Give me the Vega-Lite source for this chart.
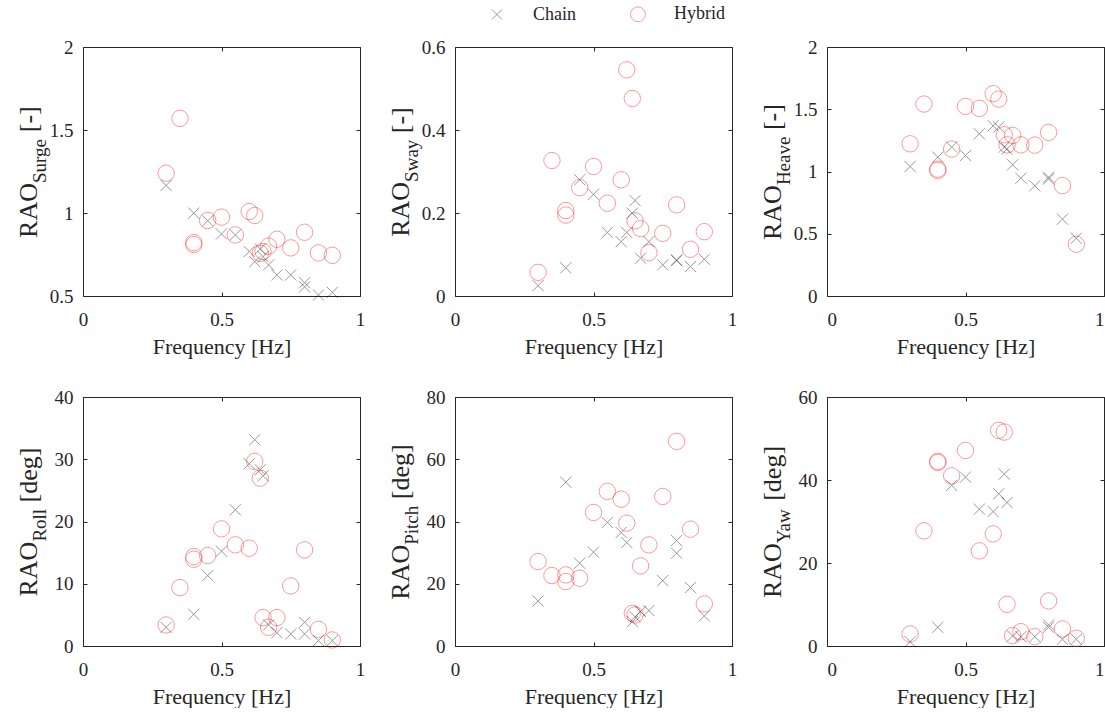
{
"$schema":"https://vega.github.io/schema/vega-lite/v6.json",
"padding":{"left":14,"top":5,"right":0,"bottom":0},
"background":"white",
"datasets":{"d":[
{"p":"Surge","t":"Hybrid","f":0.3,"v":1.24},{"p":"Surge","t":"Hybrid","f":0.35,"v":1.57},{"p":"Surge","t":"Hybrid","f":0.4,"v":0.822},{"p":"Surge","t":"Hybrid","f":0.4,"v":0.81},{"p":"Surge","t":"Hybrid","f":0.45,"v":0.955},{"p":"Surge","t":"Hybrid","f":0.5,"v":0.975},{"p":"Surge","t":"Hybrid","f":0.55,"v":0.868},{"p":"Surge","t":"Hybrid","f":0.6,"v":1.009},{"p":"Surge","t":"Hybrid","f":0.62,"v":0.985},{"p":"Surge","t":"Hybrid","f":0.64,"v":0.757},{"p":"Surge","t":"Hybrid","f":0.65,"v":0.768},{"p":"Surge","t":"Hybrid","f":0.67,"v":0.8},{"p":"Surge","t":"Hybrid","f":0.7,"v":0.842},{"p":"Surge","t":"Hybrid","f":0.75,"v":0.79},{"p":"Surge","t":"Hybrid","f":0.8,"v":0.884},{"p":"Surge","t":"Hybrid","f":0.85,"v":0.76},{"p":"Surge","t":"Hybrid","f":0.9,"v":0.745},
{"p":"Surge","t":"Chain","f":0.3,"v":1.166},{"p":"Surge","t":"Chain","f":0.4,"v":0.999},{"p":"Surge","t":"Chain","f":0.45,"v":0.953},{"p":"Surge","t":"Chain","f":0.5,"v":0.874},{"p":"Surge","t":"Chain","f":0.55,"v":0.868},{"p":"Surge","t":"Chain","f":0.6,"v":0.768},{"p":"Surge","t":"Chain","f":0.62,"v":0.707},{"p":"Surge","t":"Chain","f":0.64,"v":0.783},{"p":"Surge","t":"Chain","f":0.65,"v":0.737},{"p":"Surge","t":"Chain","f":0.67,"v":0.687},{"p":"Surge","t":"Chain","f":0.7,"v":0.627},{"p":"Surge","t":"Chain","f":0.75,"v":0.627},{"p":"Surge","t":"Chain","f":0.8,"v":0.58},{"p":"Surge","t":"Chain","f":0.8,"v":0.555},{"p":"Surge","t":"Chain","f":0.85,"v":0.506},{"p":"Surge","t":"Chain","f":0.9,"v":0.522},
{"p":"Sway","t":"Hybrid","f":0.3,"v":0.057},{"p":"Sway","t":"Hybrid","f":0.35,"v":0.3265},{"p":"Sway","t":"Hybrid","f":0.4,"v":0.206},{"p":"Sway","t":"Hybrid","f":0.4,"v":0.195},{"p":"Sway","t":"Hybrid","f":0.45,"v":0.261},{"p":"Sway","t":"Hybrid","f":0.5,"v":0.312},{"p":"Sway","t":"Hybrid","f":0.55,"v":0.2236},{"p":"Sway","t":"Hybrid","f":0.6,"v":0.28},{"p":"Sway","t":"Hybrid","f":0.62,"v":0.545},{"p":"Sway","t":"Hybrid","f":0.64,"v":0.476},{"p":"Sway","t":"Hybrid","f":0.65,"v":0.181},{"p":"Sway","t":"Hybrid","f":0.67,"v":0.1625},{"p":"Sway","t":"Hybrid","f":0.7,"v":0.1046},{"p":"Sway","t":"Hybrid","f":0.75,"v":0.151},{"p":"Sway","t":"Hybrid","f":0.8,"v":0.2196},{"p":"Sway","t":"Hybrid","f":0.85,"v":0.1126},{"p":"Sway","t":"Hybrid","f":0.9,"v":0.155},
{"p":"Sway","t":"Chain","f":0.3,"v":0.025},{"p":"Sway","t":"Chain","f":0.4,"v":0.068},{"p":"Sway","t":"Chain","f":0.45,"v":0.28},{"p":"Sway","t":"Chain","f":0.5,"v":0.245},{"p":"Sway","t":"Chain","f":0.55,"v":0.153},{"p":"Sway","t":"Chain","f":0.6,"v":0.131},{"p":"Sway","t":"Chain","f":0.62,"v":0.153},{"p":"Sway","t":"Chain","f":0.64,"v":0.1995},{"p":"Sway","t":"Chain","f":0.65,"v":0.23},{"p":"Sway","t":"Chain","f":0.67,"v":0.091},{"p":"Sway","t":"Chain","f":0.7,"v":0.131},{"p":"Sway","t":"Chain","f":0.75,"v":0.075},{"p":"Sway","t":"Chain","f":0.8,"v":0.087},{"p":"Sway","t":"Chain","f":0.8,"v":0.085},{"p":"Sway","t":"Chain","f":0.85,"v":0.071},{"p":"Sway","t":"Chain","f":0.9,"v":0.0885},
{"p":"Heave","t":"Hybrid","f":0.3,"v":1.2225},{"p":"Heave","t":"Hybrid","f":0.35,"v":1.542},{"p":"Heave","t":"Hybrid","f":0.4,"v":1.019},{"p":"Heave","t":"Hybrid","f":0.4,"v":1.008},{"p":"Heave","t":"Hybrid","f":0.45,"v":1.18},{"p":"Heave","t":"Hybrid","f":0.5,"v":1.523},{"p":"Heave","t":"Hybrid","f":0.55,"v":1.507},{"p":"Heave","t":"Hybrid","f":0.6,"v":1.625},{"p":"Heave","t":"Hybrid","f":0.62,"v":1.582},{"p":"Heave","t":"Hybrid","f":0.64,"v":1.295},{"p":"Heave","t":"Hybrid","f":0.65,"v":1.214},{"p":"Heave","t":"Hybrid","f":0.67,"v":1.29},{"p":"Heave","t":"Hybrid","f":0.7,"v":1.214},{"p":"Heave","t":"Hybrid","f":0.75,"v":1.212},{"p":"Heave","t":"Hybrid","f":0.8,"v":1.314},{"p":"Heave","t":"Hybrid","f":0.85,"v":0.887},{"p":"Heave","t":"Hybrid","f":0.9,"v":0.416},
{"p":"Heave","t":"Chain","f":0.3,"v":1.04},{"p":"Heave","t":"Chain","f":0.4,"v":1.115},{"p":"Heave","t":"Chain","f":0.45,"v":1.196},{"p":"Heave","t":"Chain","f":0.5,"v":1.129},{"p":"Heave","t":"Chain","f":0.55,"v":1.303},{"p":"Heave","t":"Chain","f":0.6,"v":1.367},{"p":"Heave","t":"Chain","f":0.62,"v":1.357},{"p":"Heave","t":"Chain","f":0.64,"v":1.196},{"p":"Heave","t":"Chain","f":0.65,"v":1.182},{"p":"Heave","t":"Chain","f":0.67,"v":1.054},{"p":"Heave","t":"Chain","f":0.7,"v":0.946},{"p":"Heave","t":"Chain","f":0.75,"v":0.885},{"p":"Heave","t":"Chain","f":0.8,"v":0.954},{"p":"Heave","t":"Chain","f":0.8,"v":0.94},{"p":"Heave","t":"Chain","f":0.85,"v":0.617},{"p":"Heave","t":"Chain","f":0.9,"v":0.464},
{"p":"Roll","t":"Hybrid","f":0.3,"v":3.38},{"p":"Roll","t":"Hybrid","f":0.35,"v":9.38},{"p":"Roll","t":"Hybrid","f":0.4,"v":14.37},{"p":"Roll","t":"Hybrid","f":0.4,"v":13.94},{"p":"Roll","t":"Hybrid","f":0.45,"v":14.53},{"p":"Roll","t":"Hybrid","f":0.5,"v":18.82},{"p":"Roll","t":"Hybrid","f":0.55,"v":16.25},{"p":"Roll","t":"Hybrid","f":0.6,"v":15.71},{"p":"Roll","t":"Hybrid","f":0.62,"v":29.65},{"p":"Roll","t":"Hybrid","f":0.64,"v":26.97},{"p":"Roll","t":"Hybrid","f":0.65,"v":4.56},{"p":"Roll","t":"Hybrid","f":0.67,"v":3.0},{"p":"Roll","t":"Hybrid","f":0.7,"v":4.56},{"p":"Roll","t":"Hybrid","f":0.75,"v":9.65},{"p":"Roll","t":"Hybrid","f":0.8,"v":15.44},{"p":"Roll","t":"Hybrid","f":0.85,"v":2.68},{"p":"Roll","t":"Hybrid","f":0.9,"v":0.97},
{"p":"Roll","t":"Chain","f":0.3,"v":3.0},{"p":"Roll","t":"Chain","f":0.4,"v":5.09},{"p":"Roll","t":"Chain","f":0.45,"v":11.31},{"p":"Roll","t":"Chain","f":0.5,"v":15.23},{"p":"Roll","t":"Chain","f":0.55,"v":21.88},{"p":"Roll","t":"Chain","f":0.6,"v":29.28},{"p":"Roll","t":"Chain","f":0.62,"v":33.14},{"p":"Roll","t":"Chain","f":0.64,"v":28.31},{"p":"Roll","t":"Chain","f":0.65,"v":27.35},{"p":"Roll","t":"Chain","f":0.67,"v":3.38},{"p":"Roll","t":"Chain","f":0.7,"v":2.14},{"p":"Roll","t":"Chain","f":0.75,"v":1.93},{"p":"Roll","t":"Chain","f":0.8,"v":3.81},{"p":"Roll","t":"Chain","f":0.8,"v":1.93},{"p":"Roll","t":"Chain","f":0.85,"v":0.86},{"p":"Roll","t":"Chain","f":0.9,"v":0.86},
{"p":"Pitch","t":"Hybrid","f":0.3,"v":27.13},{"p":"Pitch","t":"Hybrid","f":0.35,"v":22.63},{"p":"Pitch","t":"Hybrid","f":0.4,"v":22.84},{"p":"Pitch","t":"Hybrid","f":0.4,"v":20.7},{"p":"Pitch","t":"Hybrid","f":0.45,"v":21.77},{"p":"Pitch","t":"Hybrid","f":0.5,"v":42.9},{"p":"Pitch","t":"Hybrid","f":0.55,"v":49.65},{"p":"Pitch","t":"Hybrid","f":0.6,"v":47.18},{"p":"Pitch","t":"Hybrid","f":0.62,"v":39.46},{"p":"Pitch","t":"Hybrid","f":0.64,"v":10.5},{"p":"Pitch","t":"Hybrid","f":0.65,"v":9.97},{"p":"Pitch","t":"Hybrid","f":0.67,"v":25.74},{"p":"Pitch","t":"Hybrid","f":0.7,"v":32.49},{"p":"Pitch","t":"Hybrid","f":0.75,"v":48.04},{"p":"Pitch","t":"Hybrid","f":0.8,"v":65.74},{"p":"Pitch","t":"Hybrid","f":0.85,"v":37.53},{"p":"Pitch","t":"Hybrid","f":0.9,"v":13.51},
{"p":"Pitch","t":"Chain","f":0.3,"v":14.48},{"p":"Pitch","t":"Chain","f":0.4,"v":52.65},{"p":"Pitch","t":"Chain","f":0.45,"v":26.6},{"p":"Pitch","t":"Chain","f":0.5,"v":30.13},{"p":"Pitch","t":"Chain","f":0.55,"v":39.68},{"p":"Pitch","t":"Chain","f":0.6,"v":36.46},{"p":"Pitch","t":"Chain","f":0.62,"v":33.24},{"p":"Pitch","t":"Chain","f":0.64,"v":7.83},{"p":"Pitch","t":"Chain","f":0.65,"v":9.4},{"p":"Pitch","t":"Chain","f":0.67,"v":11.05},{"p":"Pitch","t":"Chain","f":0.7,"v":11.37},{"p":"Pitch","t":"Chain","f":0.75,"v":21.02},{"p":"Pitch","t":"Chain","f":0.8,"v":33.89},{"p":"Pitch","t":"Chain","f":0.8,"v":29.81},{"p":"Pitch","t":"Chain","f":0.85,"v":18.77},{"p":"Pitch","t":"Chain","f":0.9,"v":9.65},
{"p":"Yaw","t":"Hybrid","f":0.3,"v":2.9},{"p":"Yaw","t":"Hybrid","f":0.35,"v":27.75},{"p":"Yaw","t":"Hybrid","f":0.4,"v":44.48},{"p":"Yaw","t":"Hybrid","f":0.4,"v":44.24},{"p":"Yaw","t":"Hybrid","f":0.45,"v":41.0},{"p":"Yaw","t":"Hybrid","f":0.5,"v":47.13},{"p":"Yaw","t":"Hybrid","f":0.55,"v":22.92},{"p":"Yaw","t":"Hybrid","f":0.6,"v":27.02},{"p":"Yaw","t":"Hybrid","f":0.62,"v":51.96},{"p":"Yaw","t":"Hybrid","f":0.64,"v":51.55},{"p":"Yaw","t":"Hybrid","f":0.65,"v":10.05},{"p":"Yaw","t":"Hybrid","f":0.67,"v":2.49},{"p":"Yaw","t":"Hybrid","f":0.7,"v":3.46},{"p":"Yaw","t":"Hybrid","f":0.75,"v":2.25},{"p":"Yaw","t":"Hybrid","f":0.8,"v":10.86},{"p":"Yaw","t":"Hybrid","f":0.85,"v":4.1},{"p":"Yaw","t":"Hybrid","f":0.9,"v":1.85},
{"p":"Yaw","t":"Chain","f":0.3,"v":1.05},{"p":"Yaw","t":"Chain","f":0.4,"v":4.5},{"p":"Yaw","t":"Chain","f":0.45,"v":38.69},{"p":"Yaw","t":"Chain","f":0.5,"v":40.7},{"p":"Yaw","t":"Chain","f":0.55,"v":32.98},{"p":"Yaw","t":"Chain","f":0.6,"v":32.41},{"p":"Yaw","t":"Chain","f":0.62,"v":36.68},{"p":"Yaw","t":"Chain","f":0.64,"v":41.42},{"p":"Yaw","t":"Chain","f":0.65,"v":34.58},{"p":"Yaw","t":"Chain","f":0.67,"v":2.41},{"p":"Yaw","t":"Chain","f":0.7,"v":2.25},{"p":"Yaw","t":"Chain","f":0.75,"v":2.25},{"p":"Yaw","t":"Chain","f":0.8,"v":5.07},{"p":"Yaw","t":"Chain","f":0.8,"v":4.5},{"p":"Yaw","t":"Chain","f":0.85,"v":1.61},{"p":"Yaw","t":"Chain","f":0.9,"v":1.61}
]},
"data":{"name":"d"},
"columns":3,
"spacing":{"row":101,"column":95},
"bounds":"flush",
"concat":[
{"width":277,"height":249,"transform":[{"filter":"datum.p==='Surge'"}],
"layer":[
{"mark":{"type":"point","filled":false,"size":270,"strokeWidth":1,"opacity":0.4},
"encoding":{
"x":{"field":"f","type":"quantitative","scale":{"domain":[0,1],"nice":false,"zero":false},"axis":{"orient":"bottom","values":[0,0.5,1],"format":"~f","title":"Frequency [Hz]","titleY":57,"titleBaseline":"alphabetic","labelPadding":18}},
"y":{"field":"v","type":"quantitative","scale":{"domain":[0.5,2],"nice":false,"zero":false},"axis":{"orient":"left","values":[0.5,1,1.5,2],"format":"~f","title":"RAO","titleFontSize":26,"titleX":-47,"titleY":190.4,"titleAngle":270,"titleAlign":"left","titleBaseline":"alphabetic"}},
"shape":{"field":"t","type":"nominal","scale":{"domain":["Chain","Hybrid"],"range":["M-0.68,-0.68L0.68,0.68M-0.68,0.68L0.68,-0.68","circle"]},"legend":{"title":null,"orient":"none","direction":"horizontal","columns":2,"legendX":405,"legendY":-42}},
"color":{"field":"t","type":"nominal","scale":{"domain":["Chain","Hybrid"],"range":["#000000","#ff0000"]},"legend":{"title":null,"orient":"none","direction":"horizontal","columns":2,"legendX":405,"legendY":-42}}}},
{"mark":{"type":"point","opacity":0},
"encoding":{
"x":{"field":"f","type":"quantitative","scale":{"domain":[0,1],"nice":false,"zero":false},"axis":{"orient":"top","values":[0,0.5,1],"labels":false,"title":null}},
"y":{"field":"v","type":"quantitative","scale":{"domain":[0.5,2],"nice":false,"zero":false},"axis":{"orient":"right","values":[0.5,1,1.5,2],"labels":false,"title":"Surge","titleFontSize":19,"titleX":-315,"titleY":135.5,"titleAngle":270,"titleAlign":"left","titleBaseline":"alphabetic"}}}},
{"mark":{"type":"point","opacity":0},
"encoding":{
"x":{"field":"f","type":"quantitative","scale":{"domain":[0,1],"nice":false,"zero":false},"axis":null},
"y":{"field":"v","type":"quantitative","scale":{"domain":[0.5,2],"nice":false,"zero":false},"axis":{"orient":"left","labels":false,"ticks":false,"title":"[-]","titleFontSize":26,"titleX":-47,"titleY":84.7,"titleAngle":270,"titleAlign":"left","titleBaseline":"alphabetic"}}}}
],
"resolve":{"axis":{"x":"independent","y":"independent"}}},
{"width":277,"height":249,"transform":[{"filter":"datum.p==='Sway'"}],
"layer":[
{"mark":{"type":"point","filled":false,"size":270,"strokeWidth":1,"opacity":0.4},
"encoding":{
"x":{"field":"f","type":"quantitative","scale":{"domain":[0,1],"nice":false,"zero":false},"axis":{"orient":"bottom","values":[0,0.5,1],"format":"~f","title":"Frequency [Hz]","titleY":57,"titleBaseline":"alphabetic","labelPadding":18}},
"y":{"field":"v","type":"quantitative","scale":{"domain":[0,0.6],"nice":false,"zero":false},"axis":{"orient":"left","values":[0,0.2,0.4,0.6],"format":"~f","title":"RAO","titleFontSize":26,"titleX":-47,"titleY":189.3,"titleAngle":270,"titleAlign":"left","titleBaseline":"alphabetic"}},
"shape":{"field":"t","type":"nominal","scale":{"domain":["Chain","Hybrid"],"range":["M-0.68,-0.68L0.68,0.68M-0.68,0.68L0.68,-0.68","circle"]},"legend":{"title":null,"orient":"none","direction":"horizontal","columns":2,"legendX":405,"legendY":-42}},
"color":{"field":"t","type":"nominal","scale":{"domain":["Chain","Hybrid"],"range":["#000000","#ff0000"]},"legend":{"title":null,"orient":"none","direction":"horizontal","columns":2,"legendX":405,"legendY":-42}}}},
{"mark":{"type":"point","opacity":0},
"encoding":{
"x":{"field":"f","type":"quantitative","scale":{"domain":[0,1],"nice":false,"zero":false},"axis":{"orient":"top","values":[0,0.5,1],"labels":false,"title":null}},
"y":{"field":"v","type":"quantitative","scale":{"domain":[0,0.6],"nice":false,"zero":false},"axis":{"orient":"right","values":[0,0.2,0.4,0.6],"labels":false,"title":"Sway","titleFontSize":19,"titleX":-315,"titleY":134.4,"titleAngle":270,"titleAlign":"left","titleBaseline":"alphabetic"}}}},
{"mark":{"type":"point","opacity":0},
"encoding":{
"x":{"field":"f","type":"quantitative","scale":{"domain":[0,1],"nice":false,"zero":false},"axis":null},
"y":{"field":"v","type":"quantitative","scale":{"domain":[0,0.6],"nice":false,"zero":false},"axis":{"orient":"left","labels":false,"ticks":false,"title":"[-]","titleFontSize":26,"titleX":-47,"titleY":85.7,"titleAngle":270,"titleAlign":"left","titleBaseline":"alphabetic"}}}}
],
"resolve":{"axis":{"x":"independent","y":"independent"}}},
{"width":277,"height":249,"transform":[{"filter":"datum.p==='Heave'"}],
"layer":[
{"mark":{"type":"point","filled":false,"size":270,"strokeWidth":1,"opacity":0.4},
"encoding":{
"x":{"field":"f","type":"quantitative","scale":{"domain":[0,1],"nice":false,"zero":false},"axis":{"orient":"bottom","values":[0,0.5,1],"format":"~f","labelFlush":true,"title":"Frequency [Hz]","titleY":57,"titleBaseline":"alphabetic","labelPadding":18}},
"y":{"field":"v","type":"quantitative","scale":{"domain":[0,2],"nice":false,"zero":false},"axis":{"orient":"left","values":[0,0.5,1,1.5,2],"format":"~f","title":"RAO","titleFontSize":26,"titleX":-47,"titleY":192.5,"titleAngle":270,"titleAlign":"left","titleBaseline":"alphabetic"}},
"shape":{"field":"t","type":"nominal","scale":{"domain":["Chain","Hybrid"],"range":["M-0.68,-0.68L0.68,0.68M-0.68,0.68L0.68,-0.68","circle"]},"legend":{"title":null,"orient":"none","direction":"horizontal","columns":2,"legendX":405,"legendY":-42}},
"color":{"field":"t","type":"nominal","scale":{"domain":["Chain","Hybrid"],"range":["#000000","#ff0000"]},"legend":{"title":null,"orient":"none","direction":"horizontal","columns":2,"legendX":405,"legendY":-42}}}},
{"mark":{"type":"point","opacity":0},
"encoding":{
"x":{"field":"f","type":"quantitative","scale":{"domain":[0,1],"nice":false,"zero":false},"axis":{"orient":"top","values":[0,0.5,1],"labels":false,"title":null}},
"y":{"field":"v","type":"quantitative","scale":{"domain":[0,2],"nice":false,"zero":false},"axis":{"orient":"right","values":[0,0.5,1,1.5,2],"labels":false,"title":"Heave","titleFontSize":19,"titleX":-315,"titleY":137.6,"titleAngle":270,"titleAlign":"left","titleBaseline":"alphabetic"}}}},
{"mark":{"type":"point","opacity":0},
"encoding":{
"x":{"field":"f","type":"quantitative","scale":{"domain":[0,1],"nice":false,"zero":false},"axis":null},
"y":{"field":"v","type":"quantitative","scale":{"domain":[0,2],"nice":false,"zero":false},"axis":{"orient":"left","labels":false,"ticks":false,"title":"[-]","titleFontSize":26,"titleX":-47,"titleY":82.6,"titleAngle":270,"titleAlign":"left","titleBaseline":"alphabetic"}}}}
],
"resolve":{"axis":{"x":"independent","y":"independent"}}},
{"width":277,"height":249,"transform":[{"filter":"datum.p==='Roll'"}],
"layer":[
{"mark":{"type":"point","filled":false,"size":270,"strokeWidth":1,"opacity":0.4},
"encoding":{
"x":{"field":"f","type":"quantitative","scale":{"domain":[0,1],"nice":false,"zero":false},"axis":{"orient":"bottom","values":[0,0.5,1],"format":"~f","title":"Frequency [Hz]","titleY":57,"titleBaseline":"alphabetic","labelPadding":18}},
"y":{"field":"v","type":"quantitative","scale":{"domain":[0,40],"nice":false,"zero":false},"axis":{"orient":"left","values":[0,10,20,30,40],"format":"~f","title":"RAO","titleFontSize":26,"titleX":-47,"titleY":199,"titleAngle":270,"titleAlign":"left","titleBaseline":"alphabetic"}},
"shape":{"field":"t","type":"nominal","scale":{"domain":["Chain","Hybrid"],"range":["M-0.68,-0.68L0.68,0.68M-0.68,0.68L0.68,-0.68","circle"]},"legend":{"title":null,"orient":"none","direction":"horizontal","columns":2,"legendX":405,"legendY":-42}},
"color":{"field":"t","type":"nominal","scale":{"domain":["Chain","Hybrid"],"range":["#000000","#ff0000"]},"legend":{"title":null,"orient":"none","direction":"horizontal","columns":2,"legendX":405,"legendY":-42}}}},
{"mark":{"type":"point","opacity":0},
"encoding":{
"x":{"field":"f","type":"quantitative","scale":{"domain":[0,1],"nice":false,"zero":false},"axis":{"orient":"top","values":[0,0.5,1],"labels":false,"title":null}},
"y":{"field":"v","type":"quantitative","scale":{"domain":[0,40],"nice":false,"zero":false},"axis":{"orient":"right","values":[0,10,20,30,40],"labels":false,"title":"Roll","titleFontSize":19,"titleX":-315,"titleY":144.1,"titleAngle":270,"titleAlign":"left","titleBaseline":"alphabetic"}}}},
{"mark":{"type":"point","opacity":0},
"encoding":{
"x":{"field":"f","type":"quantitative","scale":{"domain":[0,1],"nice":false,"zero":false},"axis":null},
"y":{"field":"v","type":"quantitative","scale":{"domain":[0,40],"nice":false,"zero":false},"axis":{"orient":"left","labels":false,"ticks":false,"title":"[deg]","titleFontSize":26,"titleX":-47,"titleY":104.9,"titleAngle":270,"titleAlign":"left","titleBaseline":"alphabetic"}}}}
],
"resolve":{"axis":{"x":"independent","y":"independent"}}},
{"width":277,"height":249,"transform":[{"filter":"datum.p==='Pitch'"}],
"layer":[
{"mark":{"type":"point","filled":false,"size":270,"strokeWidth":1,"opacity":0.4},
"encoding":{
"x":{"field":"f","type":"quantitative","scale":{"domain":[0,1],"nice":false,"zero":false},"axis":{"orient":"bottom","values":[0,0.5,1],"format":"~f","title":"Frequency [Hz]","titleY":57,"titleBaseline":"alphabetic","labelPadding":18}},
"y":{"field":"v","type":"quantitative","scale":{"domain":[0,80],"nice":false,"zero":false},"axis":{"orient":"left","values":[0,20,40,60,80],"format":"~f","title":"RAO","titleFontSize":26,"titleX":-47,"titleY":202.2,"titleAngle":270,"titleAlign":"left","titleBaseline":"alphabetic"}},
"shape":{"field":"t","type":"nominal","scale":{"domain":["Chain","Hybrid"],"range":["M-0.68,-0.68L0.68,0.68M-0.68,0.68L0.68,-0.68","circle"]},"legend":{"title":null,"orient":"none","direction":"horizontal","columns":2,"legendX":405,"legendY":-42}},
"color":{"field":"t","type":"nominal","scale":{"domain":["Chain","Hybrid"],"range":["#000000","#ff0000"]},"legend":{"title":null,"orient":"none","direction":"horizontal","columns":2,"legendX":405,"legendY":-42}}}},
{"mark":{"type":"point","opacity":0},
"encoding":{
"x":{"field":"f","type":"quantitative","scale":{"domain":[0,1],"nice":false,"zero":false},"axis":{"orient":"top","values":[0,0.5,1],"labels":false,"title":null}},
"y":{"field":"v","type":"quantitative","scale":{"domain":[0,80],"nice":false,"zero":false},"axis":{"orient":"right","values":[0,20,40,60,80],"labels":false,"title":"Pitch","titleFontSize":19,"titleX":-315,"titleY":147.3,"titleAngle":270,"titleAlign":"left","titleBaseline":"alphabetic"}}}},
{"mark":{"type":"point","opacity":0},
"encoding":{
"x":{"field":"f","type":"quantitative","scale":{"domain":[0,1],"nice":false,"zero":false},"axis":null},
"y":{"field":"v","type":"quantitative","scale":{"domain":[0,80],"nice":false,"zero":false},"axis":{"orient":"left","labels":false,"ticks":false,"title":"[deg]","titleFontSize":26,"titleX":-47,"titleY":101.7,"titleAngle":270,"titleAlign":"left","titleBaseline":"alphabetic"}}}}
],
"resolve":{"axis":{"x":"independent","y":"independent"}}},
{"width":277,"height":249,"transform":[{"filter":"datum.p==='Yaw'"}],
"layer":[
{"mark":{"type":"point","filled":false,"size":270,"strokeWidth":1,"opacity":0.4},
"encoding":{
"x":{"field":"f","type":"quantitative","scale":{"domain":[0,1],"nice":false,"zero":false},"axis":{"orient":"bottom","values":[0,0.5,1],"format":"~f","labelFlush":true,"title":"Frequency [Hz]","titleY":57,"titleBaseline":"alphabetic","labelPadding":18}},
"y":{"field":"v","type":"quantitative","scale":{"domain":[0,60],"nice":false,"zero":false},"axis":{"orient":"left","values":[0,20,40,60],"format":"~f","title":"RAO","titleFontSize":26,"titleX":-47,"titleY":200.6,"titleAngle":270,"titleAlign":"left","titleBaseline":"alphabetic"}},
"shape":{"field":"t","type":"nominal","scale":{"domain":["Chain","Hybrid"],"range":["M-0.68,-0.68L0.68,0.68M-0.68,0.68L0.68,-0.68","circle"]},"legend":{"title":null,"orient":"none","direction":"horizontal","columns":2,"legendX":405,"legendY":-42}},
"color":{"field":"t","type":"nominal","scale":{"domain":["Chain","Hybrid"],"range":["#000000","#ff0000"]},"legend":{"title":null,"orient":"none","direction":"horizontal","columns":2,"legendX":405,"legendY":-42}}}},
{"mark":{"type":"point","opacity":0},
"encoding":{
"x":{"field":"f","type":"quantitative","scale":{"domain":[0,1],"nice":false,"zero":false},"axis":{"orient":"top","values":[0,0.5,1],"labels":false,"title":null}},
"y":{"field":"v","type":"quantitative","scale":{"domain":[0,60],"nice":false,"zero":false},"axis":{"orient":"right","values":[0,20,40,60],"labels":false,"title":"Yaw","titleFontSize":19,"titleX":-315,"titleY":145.7,"titleAngle":270,"titleAlign":"left","titleBaseline":"alphabetic"}}}},
{"mark":{"type":"point","opacity":0},
"encoding":{
"x":{"field":"f","type":"quantitative","scale":{"domain":[0,1],"nice":false,"zero":false},"axis":null},
"y":{"field":"v","type":"quantitative","scale":{"domain":[0,60],"nice":false,"zero":false},"axis":{"orient":"left","labels":false,"ticks":false,"title":"[deg]","titleFontSize":26,"titleX":-47,"titleY":103.3,"titleAngle":270,"titleAlign":"left","titleBaseline":"alphabetic"}}}}
],
"resolve":{"axis":{"x":"independent","y":"independent"}}}
],
"config":{
"view":{"stroke":"#262626","strokeWidth":1},
"axis":{"domain":false,"grid":false,"tickSize":-4,"tickColor":"#262626","tickWidth":1,"labelFont":"'Liberation Serif', 'DejaVu Serif', serif","labelFontSize":19,"labelColor":"#262626","labelPadding":14,"labelFlush":false,"labelOverlap":false,"titleFont":"'Liberation Serif', 'DejaVu Serif', serif","titleFontSize":22,"titleFontWeight":"normal","titleColor":"#262626"},
"legend":{"labelFont":"'Liberation Serif', 'DejaVu Serif', serif","labelFontSize":18,"labelColor":"#262626","symbolSize":220,"symbolStrokeWidth":1,"symbolOpacity":0.4,"labelOffset":27,"columnPadding":52,"padding":0}
}
}
